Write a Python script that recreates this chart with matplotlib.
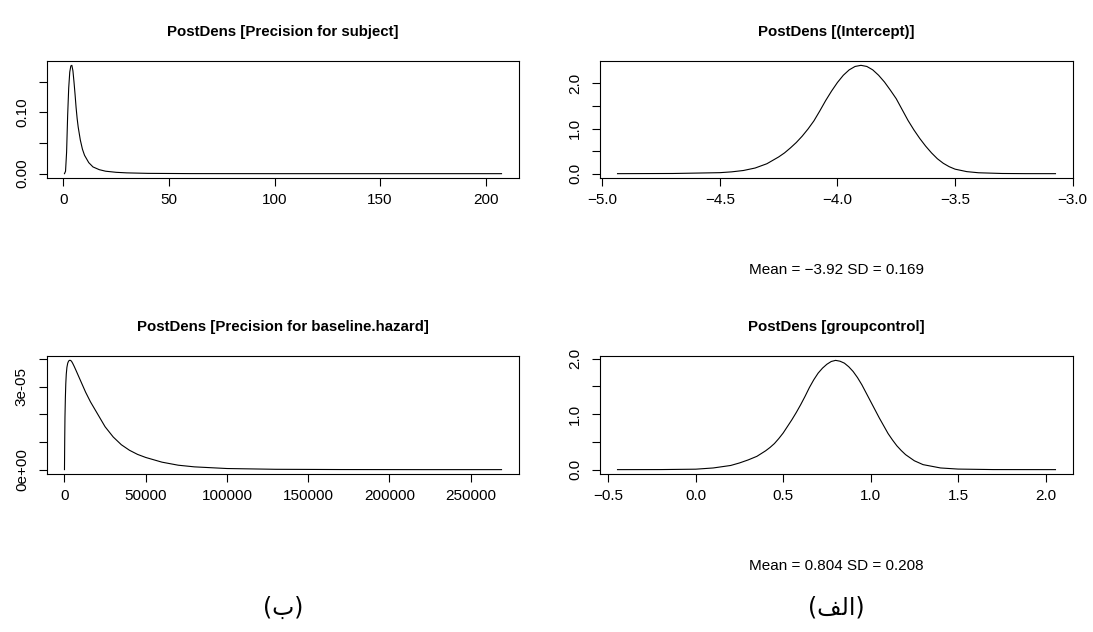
import matplotlib
matplotlib.use("Agg")
import matplotlib.pyplot as plt

plt.rcParams['font.family'] = ['Liberation Sans', 'DejaVu Sans']

# posterior densities
subj_x = [0.5, 1.0, 1.5, 2.0, 2.5, 3.0, 3.5, 4.0, 4.5, 5.0, 5.5, 6.0, 6.5, 7.0, 8.0, 9.0,
          10, 12, 14, 17, 20, 25, 30, 40, 60, 100, 150, 207.5]
subj_y = [0.0, 0.004, 0.035, 0.095, 0.140, 0.166, 0.176, 0.177, 0.168, 0.150, 0.130, 0.108,
          0.090, 0.076, 0.055, 0.040, 0.030, 0.018, 0.011, 0.0065, 0.004, 0.0022, 0.0013,
          0.0005, 0.0001, 0.0, 0.0, 0.0]

haz_x = [0, 150, 300, 550, 800, 1100, 1500, 2000, 2500, 3000, 3700, 4300, 5000, 6000, 7000,
         8500, 10000, 13000, 16000, 20000, 25000, 30000, 35000, 40000, 45000, 50000, 60000,
         70000, 80000, 100000, 130000, 170000, 220000, 269000]
haz_y = [0.0, 1.1e-05, 1.9e-05, 2.6e-05, 3.1e-05, 3.45e-05, 3.7e-05, 3.85e-05, 3.92e-05,
         3.95e-05, 3.95e-05, 3.92e-05, 3.85e-05, 3.73e-05, 3.6e-05, 3.4e-05, 3.2e-05,
         2.8e-05, 2.45e-05, 2.05e-05, 1.55e-05, 1.18e-05, 0.90e-05, 0.70e-05, 0.55e-05,
         0.44e-05, 0.27e-05, 0.16e-05, 0.10e-05, 0.04e-05, 0.012e-05, 0.003e-05, 0.0, 0.0]

icpt_x = [-4.935, -4.7, -4.5, -4.45, -4.4, -4.35, -4.3, -4.25, -4.225, -4.2, -4.175, -4.15,
          -4.125, -4.1, -4.075, -4.05, -4.025, -4.0, -3.975, -3.95, -3.925, -3.9, -3.875,
          -3.85, -3.825, -3.8, -3.775, -3.75, -3.725, -3.7, -3.675, -3.65, -3.625, -3.6,
          -3.575, -3.55, -3.525, -3.5, -3.45, -3.4, -3.3, -3.2, -3.073]
icpt_y = [0.0, 0.004, 0.022, 0.04, 0.07, 0.125, 0.22, 0.37, 0.46, 0.57, 0.69, 0.83,
          0.99, 1.17, 1.39, 1.62, 1.83, 2.02, 2.18, 2.30, 2.375, 2.40, 2.375,
          2.30, 2.18, 2.03, 1.85, 1.66, 1.42, 1.18, 0.97, 0.78, 0.61, 0.46,
          0.33, 0.23, 0.155, 0.10, 0.045, 0.02, 0.004, 0.0005, 0.0]

grp_x = [-0.447, -0.2, 0.0, 0.1, 0.2, 0.25, 0.3, 0.35, 0.4, 0.425, 0.45, 0.475, 0.5, 0.525,
         0.55, 0.575, 0.6, 0.625, 0.65, 0.675, 0.7, 0.725, 0.75, 0.775, 0.8, 0.825, 0.85,
         0.875, 0.9, 0.925, 0.95, 0.975, 1.0, 1.025, 1.05, 1.075, 1.1, 1.125, 1.15, 1.175,
         1.2, 1.25, 1.3, 1.4, 1.5, 1.7, 2.057]
grp_y = [0.0, 0.001, 0.008, 0.03, 0.075, 0.12, 0.175, 0.24, 0.34, 0.40, 0.47, 0.56, 0.66,
         0.78, 0.90, 1.03, 1.17, 1.32, 1.48, 1.62, 1.74, 1.83, 1.90, 1.95, 1.97, 1.955, 1.92,
         1.855, 1.77, 1.66, 1.53, 1.38, 1.23, 1.08, 0.93, 0.79, 0.65, 0.535, 0.43, 0.345,
         0.27, 0.16, 0.09, 0.03, 0.01, 0.001, 0.0]

icpt_mean, icpt_sd = -3.92, 0.169
grp_mean, grp_sd = 0.804, 0.208

# ticks (R leaves some labels out when they would collide)
subj_xt = [0, 50, 100, 150, 200]
subj_yt = [0, 0.05, 0.10, 0.15]
subj_yl = ['0.00', '', '0.10', '']
haz_xt = [0, 50000, 100000, 150000, 200000, 250000]
haz_yt = [0, 1e-05, 2e-05, 3e-05, 4e-05]
haz_yl = ['0e+00', '', '', '3e-05', '']
icpt_xt = [-5.0, -4.5, -4.0, -3.5, -3.0]
grp_xt = [-0.5, 0.0, 0.5, 1.0, 1.5, 2.0]
dens_yt = [0, 0.5, 1.0, 1.5, 2.0]
dens_yl = ['0.0', '', '1.0', '', '2.0']

W, H = 1093, 632


def panel(rect, x, y, title, xt, xl, yt, yl, sub=None):
    l, t, r, b = rect
    ax = fig.add_axes([l / W, 1 - b / H, (r - l) / W, (b - t) / H])
    ax.plot(x, y, color='black', lw=0.8)
    ax.margins(x=0.04, y=0.04)
    ax.set_xticks(xt, xl)
    ax.set_yticks(yt, yl)
    ax.tick_params(direction='out', length=6, width=0.8, labelsize=11, color='black')
    ax.tick_params(axis='x', pad=5)
    ax.tick_params(axis='y', pad=7, labelrotation=90)
    for lab in ax.get_yticklabels():
        lab.set_va('center')
    for s in ax.spines.values():
        s.set_linewidth(0.8)
    ax.set_title(title, fontsize=10.8, fontweight='bold', pad=18)
    if sub:
        ax.annotate(sub, xy=(0.5, 0), xycoords='axes fraction', xytext=(0, -66),
                    textcoords='offset points', ha='center', va='center', fontsize=11)
    return ax


def fmt(v):
    return f'{v:.1f}'.replace('-', '\u2212')


fig = plt.figure(figsize=(W / 100, H / 100), dpi=100)

panel((47, 61, 519, 178), subj_x, subj_y, 'PostDens [Precision for subject]',
      subj_xt, [str(v) for v in subj_xt], subj_yt, subj_yl)
panel((600, 61, 1073, 178), icpt_x, icpt_y, 'PostDens [(Intercept)]',
      icpt_xt, [fmt(v) for v in icpt_xt], dens_yt, dens_yl,
      sub=f'Mean = {icpt_mean:.2f} SD = {icpt_sd:.3f}'.replace('-', '\u2212'))
panel((47, 356, 519, 474), haz_x, haz_y, 'PostDens [Precision for baseline.hazard]',
      haz_xt, [str(v) for v in haz_xt], haz_yt, haz_yl)
panel((600, 356, 1073, 474), grp_x, grp_y, 'PostDens [groupcontrol]',
      grp_xt, [fmt(v) for v in grp_xt], dens_yt, dens_yl,
      sub=f'Mean = {grp_mean:.3f} SD = {grp_sd:.3f}')

# no Arabic shaping in matplotlib: "الف" is given in presentation forms, visual order
fig.text(283 / W, 1 - 608 / H, '(ب)', ha='center', va='center', fontsize=17,
         family='DejaVu Sans')
fig.text(836 / W, 1 - 608 / H, '(\ufed2\ufedf\ufe8d)', ha='center', va='center',
         fontsize=17, family='DejaVu Sans')

fig.savefig('out.png', dpi=100)
